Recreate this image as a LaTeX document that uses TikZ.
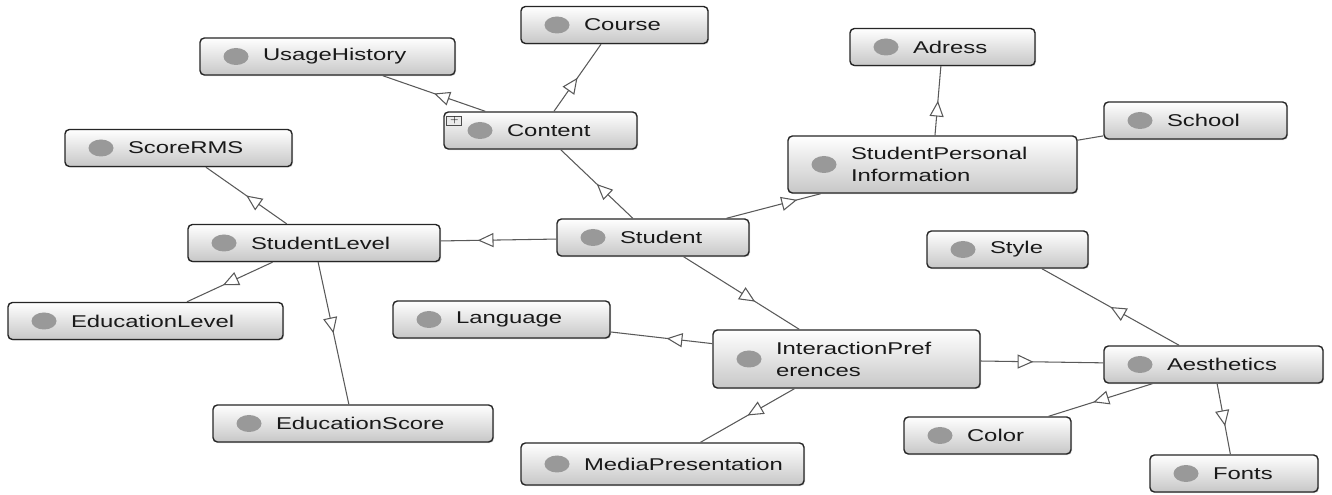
\documentclass[tikz,border=0pt]{standalone}
\usepackage{fontspec}
\usepackage{tikz}
\usetikzlibrary{arrows.meta, decorations.markings, shadows}
\newfontfamily\clsfont[FakeStretch=1.4]{Liberation Sans}
\hyphenpenalty=10000
\exhyphenpenalty=10000
\tikzset{
  cls/.style={draw=black!85, line width=0.8pt, rounded corners=2.5pt,
    top color=white, bottom color=black!22, text=black!90,
    drop shadow={shadow xshift=0.6pt, shadow yshift=-0.6pt, opacity=0.3},
    minimum height=0.74cm, inner xsep=1.26cm, inner ysep=2pt,
    text width=#1, align=left,
    font=\clsfont\fontsize{9.7pt}{12.5pt}\selectfont,
    path picture={\fill[black!40] ([xshift=0.72cm]path picture bounding box.west)
      ellipse (0.25cm and 0.17cm);}},
  plusbox/.style={draw=black!70, fill=black!8, minimum width=0.3cm,
    minimum height=0.19cm, inner sep=0pt, font=\tiny},
  link/.style={draw=black!65, line width=0.6pt},
  isa/.style={link, postaction={decorate},
    decoration={markings, mark=at position #1 with
      {\arrow{Triangle[open, length=9pt, width=8pt, fill=white]}}}},
  isa/.default=0.5
}

\begin{document}
\begin{tikzpicture}
\useasboundingbox (0,0) rectangle (26.64,9.90);
% classes
\node[cls=1.22cm] (course) at (12.29,9.40) {Course};
\node[cls=2.58cm] (usage) at (6.55,8.77) {UsageHistory};
\node[cls=1.18cm] (adress) at (18.85,8.96) {Adress};
\node[cls=1.14cm] (school) at (23.91,7.49) {School};
\node[cls=1.34cm] (content) at (10.81,7.29) {Content};
\node[plusbox] (cplus) at ([shift={(0.22,-0.19)}]content.north west) {+};
\node[cls=2.02cm] (scorerms) at (3.57,6.94) {ScoreRMS};
\node[cls=3.26cm, minimum height=1.14cm] (spi) at (18.65,6.61) {StudentPersonal\\Information};
\node[cls=2.52cm] (stlevel) at (6.28,5.04) {StudentLevel};
\node[cls=1.32cm] (student) at (13.06,5.15) {Student};
\node[cls=0.70cm] (style) at (20.15,4.91) {Style};
\node[cls=1.82cm] (language) at (10.03,3.51) {Language};
\node[cls=2.98cm] (edulevel) at (2.91,3.48) {EducationLevel};
\node[cls=2.82cm, minimum height=1.16cm] (interpref) at (16.93,2.72) {InteractionPref\\erences};
\node[cls=1.86cm] (aesth) at (24.27,2.61) {Aesthetics};
\node[cls=3.08cm] (eduscore) at (7.06,1.43) {EducationScore};
\node[cls=0.82cm] (color) at (19.75,1.19) {Color};
\node[cls=3.14cm, minimum height=0.84cm] (media) at (13.25,0.62) {MediaPresentation};
\node[cls=0.84cm] (fonts) at (24.68,0.43) {Fonts};
% links
\draw[isa] (content) -- (course);
\draw[isa] (content) -- (usage);
\draw[isa] (student) -- (content);
\draw[isa=0.75] (student) -- (spi);
\draw[isa] (spi) -- (adress);
\draw[link] (spi) -- (school);
\draw[isa=0.68] (student) -- (stlevel);
\draw[isa] (stlevel) -- (scorerms);
\draw[isa=0.58] (stlevel) -- (edulevel);
\draw[isa] (stlevel) -- (eduscore);
\draw[isa=0.62] (student) -- (interpref);
\draw[isa=0.45] (interpref) -- (language);
\draw[isa] (interpref) -- (media);
\draw[isa=0.43] (interpref) -- (aesth);
\draw[isa] (aesth) -- (style);
\draw[isa=0.57] (aesth) -- (color);
\draw[isa=0.6] (aesth) -- (fonts);
\end{tikzpicture}
\end{document}
